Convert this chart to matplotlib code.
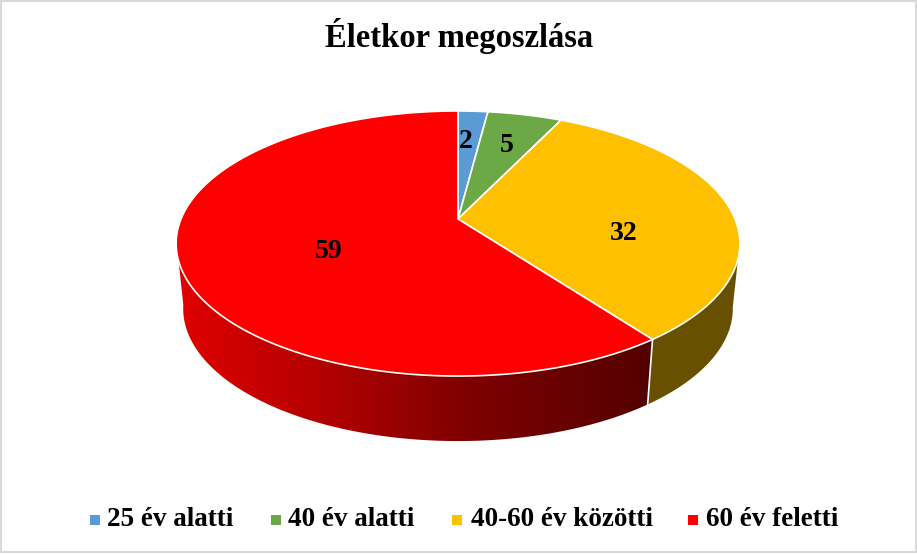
import numpy as np
import matplotlib
matplotlib.use("Agg")
import matplotlib.pyplot as plt
from matplotlib.colors import LinearSegmentedColormap
from matplotlib.patches import Polygon, Rectangle

plt.rcParams['font.family'] = ['Liberation Serif', 'DejaVu Serif']

title = "Életkor megoszlása"
categories = ["25 év alatti", "40 év alatti", "40-60 év közötti", "60 év feletti"]
values = [2, 5, 32, 59]
colors = ["#5B9BD5", "#6CA845", "#FFC000", "#FF0000"]

# pixel layout of the 3D pie
label_pos = [(466, 141), (507, 145), (624, 233), (329, 252)]
swatch_x = [90, 271, 452, 688]
text_x = [107, 288, 471, 706]
CX, CY, A, B, K = 458, 219, 277, 128, 0.185
DEPTH, SHRINK = 65, 0.975


def project(theta, r=1.0, depth=0):
    # theta in degrees, clockwise from the top, with a little perspective
    t = np.radians(theta)
    xx, zz = r * np.sin(t), r * np.cos(t)
    w = 1 + K * zz
    s = SHRINK if depth else 1.0
    return CX + s * A * xx / w, CY + depth - B * zz / w


def side_poly(t0, t1):
    th = np.linspace(t0, t1, 120)
    x1, y1 = project(th)
    x2, y2 = project(th, depth=DEPTH)
    return np.column_stack([np.r_[x1, x2[::-1]], np.r_[y1, y2[::-1]]])


fig = plt.figure(figsize=(9.17, 5.54), dpi=100)
ax = fig.add_axes([0, 0, 1, 1])
ax.set_xlim(0, 917)
ax.set_ylim(554, 0)
ax.axis("off")

edges = np.cumsum([0] + values) / sum(values) * 360

# sides
orange_side = Polygon(side_poly(100, edges[3]), fc="#675000", ec="none", zorder=2)
ax.add_patch(orange_side)

red_cmap = LinearSegmentedColormap.from_list(
    "side", [(0, "#E00000"), (0.30, "#B40000"), (0.60, "#800000"), (1, "#520000")])
red_side = Polygon(side_poly(edges[3], 261), fc="none", ec="none", zorder=2)
ax.add_patch(red_side)
grad = ax.imshow(np.linspace(0, 1, 256).reshape(1, -1), cmap=red_cmap, aspect="auto",
                 extent=(176, 655, 445, 230), zorder=2)
grad.set_clip_path(red_side)
ax.set_xlim(0, 917)
ax.set_ylim(554, 0)

xs, ys = project(edges[3])
xb, yb = project(edges[3], depth=DEPTH)
ax.plot([xs, xb], [ys, yb], color="white", lw=1.2, zorder=3)

# top face
for i in range(len(values)):
    th = np.linspace(edges[i], edges[i + 1], 200)
    x, y = project(th)
    pts = np.column_stack([np.r_[CX, x], np.r_[CY, y]])
    ax.add_patch(Polygon(pts, fc=colors[i], ec="white", lw=1.2, joinstyle="round", zorder=4))

for val, (lx, ly) in zip(values, label_pos):
    ax.text(lx, ly, str(val), ha="center", va="center", fontsize=20, fontweight="bold",
            color="black", zorder=5)

ax.text(459, 36, title, ha="center", va="center", fontsize=23.5, fontweight="bold")

for sx, tx, c, name in zip(swatch_x, text_x, colors, categories):
    ax.add_patch(Rectangle((sx, 515), 10, 10, fc=c, ec="none"))
    ax.text(tx, 520, name, ha="left", va="center", fontsize=19.5, fontweight="bold")

# grey outer frame
ax.add_patch(Rectangle((1, 1), 914.5, 551, fc="none", ec="#D9D9D9", lw=1.5))

fig.savefig("out.png", dpi=100, facecolor="white")
